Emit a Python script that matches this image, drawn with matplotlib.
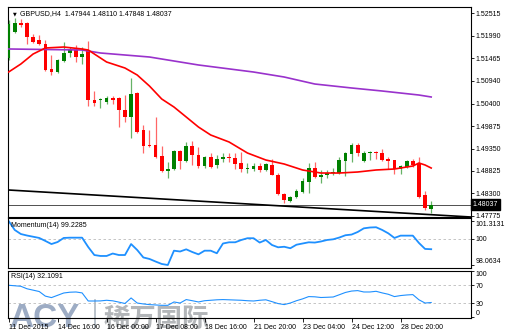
import numpy as np
import matplotlib
matplotlib.use('Agg')
import matplotlib.pyplot as plt
from matplotlib.lines import Line2D

# GBPUSD H4 bars
opens = [1.51472, 1.52081, 1.52292, 1.52292, 1.51964, 1.51893, 1.51800, 1.51214, 1.51143, 1.51401,
         1.51589, 1.51659, 1.51495, 1.51659, 1.50487, 1.50487, 1.50440, 1.50534, 1.50534, 1.50253,
         1.50089, 1.50651, 1.49784, 1.49432, 1.49432, 1.49175, 1.48823, 1.48870, 1.49292, 1.49057,
         1.49409, 1.49198, 1.48940, 1.49151, 1.48964, 1.49104, 1.49151, 1.49128, 1.49011, 1.48870,
         1.48870, 1.48940, 1.48847, 1.48964, 1.48729, 1.48284, 1.48120, 1.48214, 1.48331, 1.48565,
         1.48893, 1.48683, 1.48729, 1.48776, 1.48776, 1.49057, 1.49222, 1.49432, 1.49057, 1.49245,
         1.49268, 1.49245, 1.49104, 1.49081, 1.48870, 1.48917, 1.49057, 1.48987, 1.48261, 1.47944]
highs = [1.52362, 1.52409, 1.52386, 1.52315, 1.52034, 1.52011, 1.51893, 1.51542, 1.51448, 1.51847,
         1.51729, 1.51776, 1.51729, 1.51870, 1.50698, 1.50534, 1.50581, 1.50581, 1.50558, 1.50604,
         1.51003, 1.50675, 1.49901, 1.49784, 1.50089, 1.49409, 1.49034, 1.49315, 1.49315, 1.49503,
         1.49526, 1.49386, 1.49175, 1.49245, 1.49198, 1.49245, 1.49245, 1.49245, 1.49268, 1.49011,
         1.49011, 1.49011, 1.49011, 1.49104, 1.48776, 1.48308, 1.48237, 1.48401, 1.48659, 1.49011,
         1.49034, 1.48847, 1.48847, 1.48893, 1.49151, 1.49268, 1.49479, 1.49479, 1.49292, 1.49292,
         1.49292, 1.49339, 1.49151, 1.49081, 1.48964, 1.49081, 1.49104, 1.49151, 1.48354, 1.48110]
lows = [1.51425, 1.52058, 1.52198, 1.51800, 1.51823, 1.51776, 1.51167, 1.51073, 1.51120, 1.51378,
        1.51495, 1.51378, 1.51331, 1.50347, 1.50347, 1.50300, 1.50393, 1.50393, 1.49854, 1.49972,
        1.49597, 1.49714, 1.49245, 1.49386, 1.49128, 1.48800, 1.48659, 1.48847, 1.48870, 1.49034,
        1.48964, 1.48893, 1.48893, 1.48893, 1.48893, 1.49034, 1.49034, 1.48870, 1.48800, 1.48776,
        1.48823, 1.48800, 1.48823, 1.48729, 1.48261, 1.48073, 1.48097, 1.48190, 1.48308, 1.48308,
        1.48659, 1.48542, 1.48659, 1.48729, 1.48753, 1.48706, 1.49034, 1.49175, 1.49034, 1.49081,
        1.49104, 1.49057, 1.48870, 1.48753, 1.48753, 1.48893, 1.48917, 1.48190, 1.47909, 1.47848]
closes = [1.52268, 1.52292, 1.52245, 1.51964, 1.51847, 1.51800, 1.51190, 1.51143, 1.51425, 1.51589,
          1.51659, 1.51495, 1.51565, 1.50487, 1.50417, 1.50511, 1.50534, 1.50487, 1.50253, 1.50089,
          1.50628, 1.49737, 1.49409, 1.49409, 1.49151, 1.48823, 1.48870, 1.49292, 1.49057, 1.49409,
          1.49198, 1.48940, 1.49151, 1.48917, 1.49104, 1.49151, 1.49128, 1.48987, 1.48870, 1.48893,
          1.48940, 1.48847, 1.48987, 1.48729, 1.48284, 1.48143, 1.48214, 1.48354, 1.48589, 1.48893,
          1.48683, 1.48729, 1.48776, 1.48800, 1.49081, 1.49245, 1.49432, 1.49245, 1.49245, 1.49268,
          1.49245, 1.49081, 1.49057, 1.48870, 1.48940, 1.49057, 1.48964, 1.48214, 1.47956, 1.48037]

# moving averages, sampled at bar indices
fast_ma_idx = [0, 2, 4, 6, 9, 12, 13, 16, 19, 21, 23, 25, 27, 29, 31, 33, 36, 39, 42, 45,
               48, 51, 54, 57, 60, 63, 66, 67, 68, 69]
fast_ma = [1.51143, 1.51331, 1.51565, 1.51706, 1.51729, 1.51683, 1.51659, 1.51378, 1.51237, 1.51073,
           1.50815, 1.50511, 1.50323, 1.50089, 1.49854, 1.49667, 1.49503, 1.49245, 1.49081, 1.48987,
           1.48847, 1.48776, 1.48776, 1.48800, 1.48847, 1.48870, 1.48940, 1.49011, 1.48964, 1.48893]
slow_ma_idx = [0, 12, 15, 23, 31, 40, 45, 50, 56, 61, 67, 69]
slow_ma = [1.51683, 1.51659, 1.51589, 1.51495, 1.51308, 1.51143, 1.51026, 1.50862, 1.50769,
           1.50698, 1.50604, 1.50558]

trend_idx = [0, 75.5]
trend_price = [1.48378, 1.47745]

momentum = [101.3131, 100.65, 100.35, 100.24, 100.15, 100.06, 99.84, 99.61, 99.76, 100.06,
            100.08, 100.08, 100.08, 99.39, 98.80, 98.73, 98.73, 98.91, 98.80, 98.80,
            99.61, 99.17, 98.62, 98.51, 98.32, 98.14, 98.0634, 99.12, 99.06, 99.22,
            99.02, 98.85, 99.12, 99.12, 98.93, 99.65, 99.74, 99.74, 99.91, 100.04,
            100.04, 99.72, 99.91, 99.54, 99.37, 99.41, 99.30, 99.56, 99.65, 99.74,
            99.72, 99.80, 99.91, 99.96, 100.09, 100.26, 100.31, 100.50, 100.77, 100.83,
            100.85, 100.65, 100.40, 100.06, 100.23, 100.23, 100.23, 99.69, 99.25, 99.2285]
rsi = [69.6, 68.5, 67.4, 62.0, 59.0, 56.0, 46.0, 42.8, 47.8, 52.8,
       54.5, 55.0, 53.0, 35.4, 35.4, 35.6, 37.0, 35.8, 33.0, 30.0,
       42.0, 31.0, 29.0, 27.5, 26.8, 26.0, 26.0, 33.3, 31.0, 38.5,
       36.0, 33.3, 36.0, 37.0, 38.0, 38.5, 38.0, 37.5, 37.0, 36.0,
       35.4, 37.0, 38.0, 34.0, 29.8, 27.6, 31.0, 36.0, 40.0, 45.0,
       44.5, 43.0, 43.5, 44.1, 49.0, 54.0, 57.0, 58.0, 55.0, 55.0,
       56.5, 53.0, 50.0, 45.0, 47.2, 48.5, 49.3, 38.0, 31.0, 32.1091]

price_ticks = [1.52515, 1.51990, 1.51465, 1.50940, 1.50400, 1.49875, 1.49350, 1.48825, 1.48300, 1.47775]
time_labels = ['11 Dec 2015', '14 Dec 16:00', '16 Dec 00:00', '17 Dec 08:00', '18 Dec 16:00',
               '21 Dec 20:00', '23 Dec 04:00', '24 Dec 12:00', '28 Dec 20:00']
label_step = 8

W, H = 511, 336
UP = '#008000'
DOWN = '#FF0000'
BLUE = '#1E90FF'


def frac(x0, y0, x1, y1):
    # pixel box -> figure fraction rect
    return [x0 / W, 1 - y1 / H, (x1 - x0) / W, (y1 - y0) / H]


def style_axis(ax):
    ax.set_xlim(-0.18, 75.5)
    for s in ax.spines.values():
        s.set_linewidth(0.8)
        s.set_color('black')
    ax.yaxis.tick_right()
    ax.tick_params(axis='y', length=2, width=0.6, pad=1.5, labelsize=5, colors='black')
    ax.tick_params(axis='x', bottom=False, labelbottom=False)


def draw_candles(ax):
    for i, (o, h, l, c) in enumerate(zip(opens, highs, lows, closes)):
        col = UP if c >= o else DOWN
        ax.vlines(i, l, h, color=col, lw=0.9, alpha=0.6, zorder=3)
        if abs(c - o) < 0.00004:
            ax.hlines(c, i - 0.3, i + 0.3, color=col, lw=0.9, zorder=4)
        else:
            ax.bar(i, abs(c - o), bottom=min(o, c), width=0.6, color=col, lw=0, zorder=4)


def main():
    plt.rcParams['font.family'] = ['Liberation Sans', 'DejaVu Sans']
    fig = plt.figure(figsize=(W / 100, H / 100), dpi=100)

    ax = fig.add_axes(frac(7.5, 6.7, 471, 216.8))
    mom = fig.add_axes(frac(7.5, 218.3, 471, 268.3))
    rs = fig.add_axes(frac(7.5, 270.5, 471, 317.7))
    for a in (ax, mom, rs):
        style_axis(a)
    # let the watermark show through the lower window
    rs.patch.set_alpha(0)

    # price window
    ax.set_ylim(1.47750, 1.52674)
    ax.set_yticks(price_ticks)
    ax.set_yticklabels([f'{p:.5f}' for p in price_ticks])
    ax.plot(trend_idx, trend_price, color='black', lw=1.2, zorder=2)
    ax.axhline(closes[-1], color='#505050', lw=0.7, zorder=1)
    ax.plot(slow_ma_idx, slow_ma, color='#9932CC', lw=1.2, zorder=5)
    ax.plot(fast_ma_idx, fast_ma, color=DOWN, lw=1.2, zorder=5)
    draw_candles(ax)
    ax.text(1.003, closes[-1], f'{closes[-1]:.5f}', transform=ax.get_yaxis_transform(),
            color='white', fontsize=5, va='center', ha='left', clip_on=False,
            bbox=dict(boxstyle='square,pad=0.25', fc='black', ec='black'))
    fig.text(12.5 / W, 1 - 13.5 / H, '▼', fontsize=3.5, family='DejaVu Sans', va='center')
    fig.text(20 / W, 1 - 13.5 / H,
             f'GBPUSD,H4  {opens[-1]:.5f} {highs[-1]:.5f} {lows[-1]:.5f} {closes[-1]:.5f}',
             fontsize=5, va='center')

    # momentum window
    x = np.arange(len(momentum))
    mom.set_ylim(97.82, 101.51)
    mom.axhline(100, color='#BBBBBB', lw=0.6, ls=(0, (3, 3)))
    mom.plot(x, momentum, color=BLUE, lw=1.3)
    mticks = [min(momentum), 100, max(momentum)]
    mom.set_yticks(mticks)
    mom.set_yticklabels([f'{mticks[0]:.4f}', '100', f'{mticks[2]:.4f}'])
    labs = mom.get_yticklabels()
    labs[0].set_va('bottom')
    labs[2].set_va('top')
    mom.text(0.008, 0.86, f'Momentum(14) {momentum[-1]:.4f}', transform=mom.transAxes,
             fontsize=5, va='center')

    # RSI window
    rs.set_ylim(-0.9, 101.7)
    for lvl in (70, 30):
        rs.axhline(lvl, color='#BBBBBB', lw=0.6, ls=(0, (3, 3)))
    rs.plot(x, rsi, color=BLUE, lw=0.8)
    rs.set_yticks([0, 30, 70, 100])
    rs.set_yticklabels(['0', '30', '70', '100'])
    labs = rs.get_yticklabels()
    labs[0].set_va('bottom')
    labs[3].set_va('top')
    rs.text(0.008, 0.87, f'RSI(14) {rsi[-1]:.4f}', transform=rs.transAxes, fontsize=5, va='center')

    rs.tick_params(axis='x', bottom=True, labelbottom=True, length=3, width=0.6,
                   pad=1.5, labelsize=5, direction='out')
    rs.set_xticks(np.arange(len(time_labels)) * label_step)
    rs.set_xticklabels(time_labels)
    for t in rs.get_xticklabels():
        t.set_ha('left')

    # watermark, kept beneath the axes content
    fig.text(9 / W, 1 - 327 / H, 'ACY', fontsize=24, weight='bold', color='#7C90B0',
             alpha=0.75, va='baseline', zorder=-1)
    fig.add_artist(Line2D([95 / W, 95 / W], [1 - 300 / H, 1 - 327 / H], color='#8C9AA8',
                          lw=1.2, alpha=0.7, zorder=-1))
    fig.text(104 / W, 1 - 327 / H, '稀万国际', fontsize=19, weight='bold',
             family=['Noto Sans CJK SC', 'DejaVu Sans'], color='#A0A4A8', alpha=0.8,
             va='baseline', zorder=-1)

    fig.savefig('out.png', dpi=100)


if __name__ == '__main__':
    main()
